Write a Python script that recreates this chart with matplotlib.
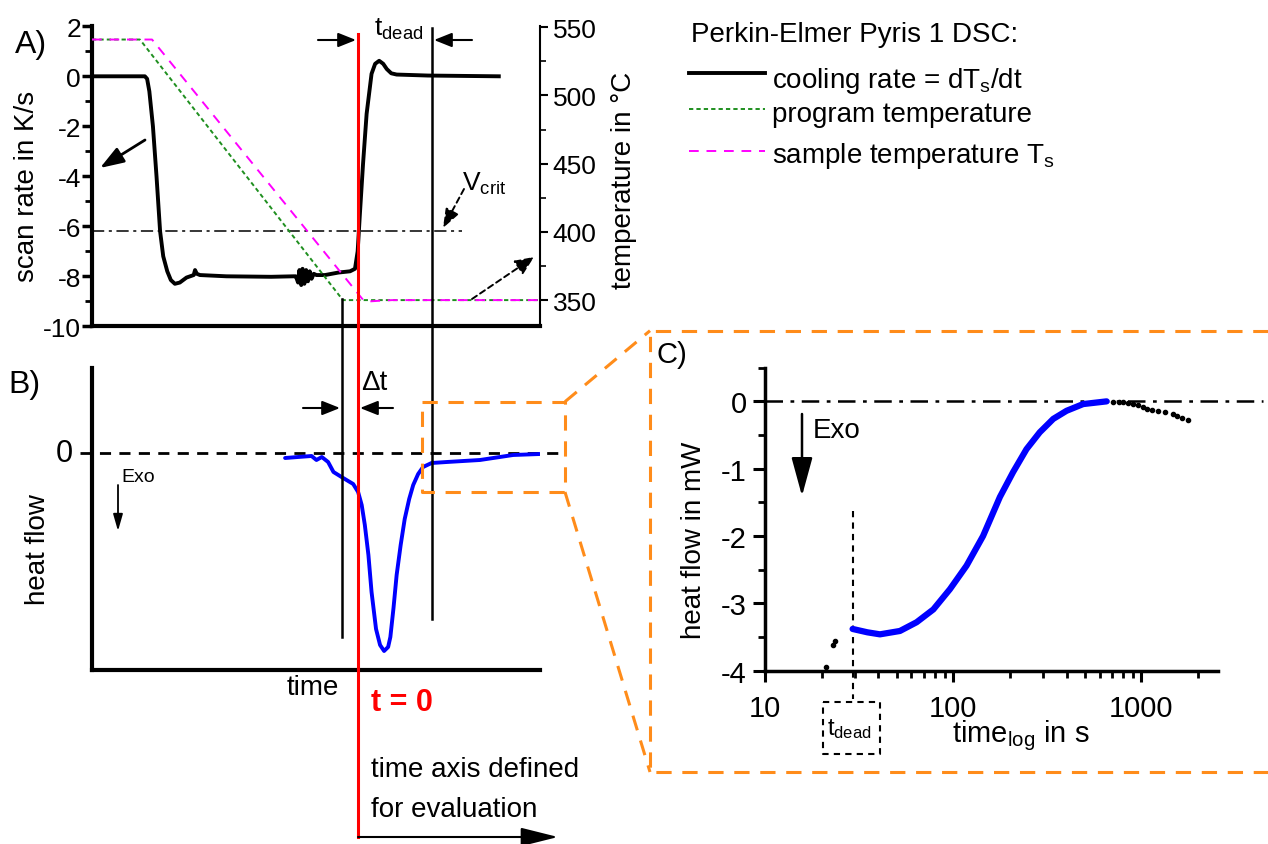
import matplotlib
matplotlib.use("Agg")
import matplotlib.pyplot as plt
import matplotlib.transforms as mtransforms
from matplotlib.ticker import MultipleLocator, FixedLocator, FixedFormatter, LogLocator, NullFormatter

W, H = 1268, 845

plt.rcParams["font.family"] = ["Liberation Sans Narrow", "Liberation Sans", "DejaVu Sans"]
plt.rcParams["mathtext.fontset"] = "custom"
plt.rcParams["mathtext.rm"] = "Liberation Sans"
plt.rcParams["mathtext.it"] = "Liberation Sans:italic"
plt.rcParams["mathtext.bf"] = "Liberation Sans:bold"
plt.rcParams["axes.unicode_minus"] = False

# ---- panel A: scan rate and temperatures against time (arbitrary units)
rate_time = [0, 11.8, 12.3, 12.8, 13.6, 14.4, 15.2, 15.9, 16.8, 17.6, 18.5, 19.6, 21.1,
             22.7, 23.0, 23.4, 24.1, 30, 40, 45.0, 45.5, 46.0, 46.3, 46.7, 47.0, 47.4,
             47.8, 48.2, 48.6, 49.0, 49.5, 50.1, 52, 55, 57.6, 58.7, 59.3, 59.8, 60.5,
             61.3, 62.4, 63.2, 64.1, 65.0, 65.8, 66.8, 68.0, 75, 90.8]
rate_value = [0, 0, -0.1, -0.6, -2.0, -4.0, -6.2, -7.2, -7.8, -8.15, -8.3, -8.25, -8.05,
              -7.95, -7.75, -7.9, -7.95, -8.0, -8.02, -8.0, -8.0, -8.25, -7.75, -8.35, -7.7,
              -8.3, -7.75, -8.2, -7.8, -8.1, -7.9, -7.95, -7.95, -7.85, -7.8, -7.7, -7.0,
              -5.5, -3.5, -1.5, 0.1, 0.5, 0.62, 0.5, 0.29, 0.12, 0.07, 0.03, 0.0]

prog_time = [0, 10.7, 56.0, 100]
prog_temp = [541, 541, 350, 350]
sample_time = [0, 13.4, 60.3, 61.7, 64.0, 67.0, 100]
sample_temp = [541, 541, 351, 349, 349.5, 350, 350]

v_crit = -6.2
t_start = 55.9
t_zero = 59.3
t_dead_end = 75.9

# ---- panel B: heat flow (arbitrary units)
hf_time = [43.1, 46.0, 49.0, 50.1, 51.3, 52.7, 53.9, 55.7, 58.3, 59.4, 60.2, 60.9, 61.7,
           62.4, 63.4, 64.3, 65.2, 66.1, 66.6, 67.3, 68.0, 68.9, 69.8, 70.8, 71.7, 72.8,
           73.9, 75.8, 79.2, 86.6, 94.0, 100]
hf_value = [-0.05, -0.04, -0.03, -0.07, -0.04, -0.09, -0.19, -0.24, -0.31, -0.39, -0.52,
            -0.72, -1.02, -1.39, -1.76, -1.92, -1.98, -1.94, -1.84, -1.55, -1.22, -0.92,
            -0.66, -0.46, -0.32, -0.21, -0.14, -0.10, -0.09, -0.07, -0.02, -0.01]

# ---- panel C: heat flow in mW against log time in s
iso_time = [29.2, 35, 40.8, 52.1, 63.9, 78.4, 96, 117.7, 144, 177, 208, 245, 288, 340,
            400, 490, 653]
iso_hf = [-3.38, -3.43, -3.46, -3.41, -3.28, -3.09, -2.79, -2.44, -2.0, -1.42, -1.05,
          -0.71, -0.46, -0.26, -0.14, -0.04, 0.0]
tail_time = [708, 760, 800, 850, 904, 960, 1021, 1075, 1131, 1227, 1332, 1473, 1550, 1632, 1771]
tail_hf = [-0.006, -0.01, -0.015, -0.025, -0.04, -0.06, -0.09, -0.11, -0.125, -0.14, -0.155,
           -0.19, -0.21, -0.24, -0.28]
early_time = [21.1, 23.0, 23.6]
early_hf = [-3.95, -3.62, -3.56]
t_dead_log = 29.2

ORANGE = "#ff8c1a"
LABEL_SIZE = 20


def px_axes(fig, left, top, right, bottom):
    return fig.add_axes([left / W, 1 - bottom / H, (right - left) / W, (bottom - top) / H])


def arrow(ax, start, end, head_len, head_half, lw=1.5, ls="-", color="black"):
    ax.annotate(
        "", xy=end, xytext=start,
        arrowprops=dict(
            arrowstyle=f"-|>,head_length={head_len * 0.072:.3f},head_width={head_half * 0.072:.3f}",
            mutation_scale=10, lw=lw, ls=ls, color=color, shrinkA=0, shrinkB=0,
        ),
    )


fig = plt.figure(figsize=(W / 100, H / 100), dpi=100)

# ---------------- panel A
axA = px_axes(fig, 92, 27.3, 540, 327.3)
axA.set_xlim(0, 100)
axA.set_ylim(-10, 2)
axA.plot(rate_time, rate_value, color="black", lw=2.8, solid_joinstyle="round", zorder=3)
axA.plot([0, 82.7], [v_crit, v_crit], color="black", lw=1.1, ls=(0, (8, 3, 2, 3)))
axA.spines["top"].set_visible(False)
axA.spines["right"].set_visible(False)
axA.spines["left"].set_linewidth(3)
axA.spines["bottom"].set_linewidth(3)
axA.set_xticks([])
axA.yaxis.set_major_locator(MultipleLocator(2))
axA.yaxis.set_minor_locator(MultipleLocator(1))
axA.tick_params(axis="y", which="major", direction="out", length=7, width=2.5, labelsize=19, pad=1)
axA.tick_params(axis="y", which="minor", direction="out", length=5, width=2)

axT = axA.twinx()
axT.set_ylim(330.8, 550.7)
for side in ("left", "top", "bottom"):
    axT.spines[side].set_visible(False)
axT.spines["right"].set_linewidth(1.5)
axT.yaxis.set_major_locator(MultipleLocator(50))
axT.yaxis.set_minor_locator(MultipleLocator(25))
axT.tick_params(axis="y", which="major", direction="out", length=6, width=1.5, labelsize=19, pad=3)
axT.tick_params(axis="y", which="minor", direction="out", length=4, width=1.2)
axT.plot(prog_time, prog_temp, color="#1f8f1f", lw=1.4, ls=(0, (2.2, 1.6)))
axT.plot(sample_time, sample_temp, color="#ff00ff", lw=1.4, ls=(0, (5, 4)))

# ---------------- panel B
axB = px_axes(fig, 92, 369, 540, 671)
axB.set_xlim(0, 100)
axB.set_ylim(-2.17, 0.85)
axB.plot([-2.7, 104], [0, 0], color="black", lw=2, ls=(0, (4, 3)), clip_on=False)
axB.plot(hf_time, hf_value, color="#0000ff", lw=2.8, solid_joinstyle="round",
         solid_capstyle="round")
axB.spines["top"].set_visible(False)
axB.spines["right"].set_visible(False)
axB.spines["left"].set_linewidth(3)
axB.spines["bottom"].set_linewidth(3)
axB.set_xticks([])
axB.set_yticks([])

# ---------------- panel C
axC = px_axes(fig, 765, 368.7, 1218, 671.7)
axC.set_xscale("log")
axC.set_xlim(10, 2550)
axC.set_ylim(-4, 0.5)
axC.plot([10, 4400], [0, 0], color="black", lw=1.8, ls=(0, (7, 3, 1.5, 3)), clip_on=False)
axC.plot([t_dead_log, t_dead_log], [-1.63, -4.42], color="black", lw=1.5,
         ls=(0, (3, 2.5)), clip_on=False)
axC.plot(iso_time, iso_hf, color="#0000ff", lw=4.5, solid_capstyle="round", zorder=3)
axC.plot(tail_time, tail_hf, ls="", marker="o", ms=3, color="black")
axC.plot(early_time, early_hf, ls="", marker="o", ms=3, color="black")
axC.spines["top"].set_visible(False)
axC.spines["right"].set_visible(False)
axC.spines["left"].set_linewidth(2.5)
axC.spines["bottom"].set_linewidth(2.5)
axC.xaxis.set_major_locator(FixedLocator([10, 100, 1000]))
axC.xaxis.set_major_formatter(FixedFormatter(["10", "100", "1000"]))
axC.xaxis.set_minor_locator(LogLocator(base=10, subs=range(2, 10)))
axC.xaxis.set_minor_formatter(NullFormatter())
axC.yaxis.set_major_locator(MultipleLocator(1))
axC.yaxis.set_minor_locator(MultipleLocator(0.5))
axC.tick_params(which="major", direction="out", length=8, width=2.2, labelsize=21, pad=4)
axC.tick_params(which="minor", direction="out", length=5, width=2)
axC.tick_params(axis="y", which="major", length=9)
axC.tick_params(axis="x", which="major", pad=9)

# ---------------- overlay in pixel coordinates
ov = fig.add_axes([0, 0, 1, 1])
ov.set_xlim(0, W)
ov.set_ylim(H, 0)
ov.axis("off")
vtrans = mtransforms.blended_transform_factory(axA.transData, ov.transData)

ov.plot([t_zero, t_zero], [35, 838], color="#ff0000", lw=2.2, transform=vtrans)
ov.plot([t_dead_end, t_dead_end], [29, 620], color="black", lw=1.8, transform=vtrans)
ov.plot([t_start, t_start], [300, 638], color="black", lw=1.8, transform=vtrans)

# orange zoom boxes
dash = dict(color=ORANGE, lw=2.2, ls=(0, (5, 3.5)))
ov.plot([421.7, 565, 565, 421.7, 421.7], [402.7, 402.7, 493, 493, 402.7], **dash)
ov.plot([565, 650], [402.7, 331.7], **dash)
ov.plot([565, 650], [493, 773], **dash)
ov.plot([1268, 650, 650, 1268], [331.7, 331.7, 773, 773], **dash)

# arrows
arrow(ov, (145, 141), (100, 169), 20, 7, lw=2)
arrow(ov, (464, 190), (443, 229), 16, 6, lw=1.4, ls=(0, (3, 2)))
arrow(ov, (472, 300), (534, 258), 16, 7, lw=1.4, ls=(0, (3, 2)))
arrow(ov, (318, 41), (356, 41), 15, 6, lw=1.5)
arrow(ov, (472, 41), (434, 41), 15, 6, lw=1.5)
arrow(ov, (303, 409), (340, 409), 15, 6, lw=1.5)
arrow(ov, (393, 409), (360, 409), 15, 6, lw=1.5)
arrow(ov, (118, 486), (118, 532), 14, 4, lw=1.3)
arrow(ov, (358, 838), (558, 838), 32, 8, lw=1.5)
arrow(ov, (802, 415), (802, 497), 33, 9, lw=1.8)

# legend of panel A
ov.text(691, 42, "Perkin-Elmer Pyris 1 DSC:", fontsize=LABEL_SIZE, va="baseline")
ov.plot([689, 765], [74, 74], color="black", lw=2.8)
ov.plot([689, 765], [110, 110], color="#1f8f1f", lw=1.4, ls=(0, (2.2, 1.6)))
ov.plot([689, 765], [152, 152], color="#ff00ff", lw=1.4, ls=(0, (5, 4)))
ov.text(772, 88, r"cooling rate = dT$_\mathrm{s}$/dt", fontsize=LABEL_SIZE, va="baseline")
ov.text(772, 122, "program temperature", fontsize=LABEL_SIZE, va="baseline")
ov.text(772, 163, r"sample temperature T$_\mathrm{s}$", fontsize=LABEL_SIZE, va="baseline")

# labels panel A
ov.text(31, 45, "A)", fontsize=23, ha="center", va="center")
ov.text(27, 186, "scan rate in K/s", fontsize=LABEL_SIZE, rotation=90, ha="center", va="center")
ov.text(624, 180, "temperature in °C", fontsize=LABEL_SIZE, rotation=90, ha="center", va="center")
ov.text(374, 36, r"t$_\mathrm{dead}$", fontsize=19, va="baseline")
ov.text(462, 191, r"V$_\mathrm{crit}$", fontsize=19, va="baseline")

# labels panel B
ov.text(24, 385, "B)", fontsize=23, ha="center", va="center")
ov.text(64, 454, "0", fontsize=22, ha="center", va="center")
ov.text(121, 482, "Exo", fontsize=14, va="baseline")
ov.text(38, 550, "heat flow", fontsize=LABEL_SIZE, rotation=90, ha="center", va="center")
ov.text(313, 688, "time", fontsize=LABEL_SIZE, ha="center", va="center")
ov.text(361, 390, "Δt", fontsize=LABEL_SIZE, va="baseline")
ov.text(402, 703, "t = 0", fontsize=22, ha="center", va="center", color="#ff0000",
        fontweight="bold")
ov.text(371, 777, "time axis defined", fontsize=LABEL_SIZE, va="baseline")
ov.text(371, 817, "for evaluation", fontsize=LABEL_SIZE, va="baseline")

# labels panel C
ov.text(672, 355, "C)", fontsize=21, ha="center", va="center")
ov.text(694, 540, "heat flow in mW", fontsize=LABEL_SIZE, rotation=90, ha="center", va="center")
ov.text(1021, 742, r"time$_\mathrm{log}$ in s", fontsize=21, ha="center", va="baseline")
ov.text(813, 438, "Exo", fontsize=LABEL_SIZE, va="baseline")
ov.plot([823, 880, 880, 823, 823], [703, 703, 755, 755, 703], color="black", lw=1.5,
        ls=(0, (3, 2.5)))
ov.text(827, 735, r"t$_\mathrm{dead}$", fontsize=17, va="baseline")

fig.savefig("out.png", dpi=100)
